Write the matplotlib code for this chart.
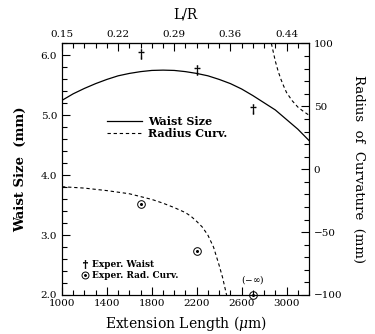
import matplotlib
matplotlib.use("Agg")
import matplotlib.pyplot as plt
from matplotlib.lines import Line2D
from matplotlib.ticker import MultipleLocator

plt.rcParams['font.family'] = ['DejaVu Serif']
plt.rcParams['mathtext.fontset'] = 'dejavuserif'

# theory curves
ext_waist = [1000, 1100, 1200, 1300, 1400, 1500, 1600, 1700, 1800, 1900, 2000,
             2100, 2200, 2300, 2400, 2500, 2600, 2700, 2800, 2900, 3000, 3100, 3200]
waist = [5.25, 5.36, 5.45, 5.53, 5.60, 5.66, 5.70, 5.73, 5.75, 5.755, 5.75,
         5.73, 5.70, 5.66, 5.60, 5.53, 5.44, 5.33, 5.21, 5.09, 4.93, 4.77, 4.58]

ext_rc_lo = [1000, 1200, 1400, 1600, 1800, 1900, 2000, 2100, 2150, 2200, 2250,
             2300, 2350, 2400, 2430, 2466]
rc_lo = [-13.9, -15.0, -17.0, -19.5, -24.0, -27.0, -30.5, -34.5, -37.5, -41.5,
         -46.0, -52.5, -62.0, -76.5, -86.0, -100]
ext_rc_hi = [2865, 2880, 2900, 2925, 2950, 2975, 3000, 3050, 3100, 3150, 3200]
rc_hi = [100, 94, 86, 78, 71.5, 66, 61, 54.5, 49.5, 46, 43]

# measured points
ext_meas = [1700, 2200, 2700]
waist_meas = [6.03, 5.76, 5.11]
rc_meas = [-28, -65, -100]

top_pos = [1000, 1500, 2000, 2500, 3000]
top_labels = ['0.15', '0.22', '0.29', '0.36', '0.44']

dash = (0, (3, 2.5))

fig = plt.figure(figsize=(3.75, 3.34), dpi=100)
ax = fig.add_axes([0.1653, 0.1168, 0.6587, 0.753])
ax2 = ax.twinx()

ax.plot(ext_waist, waist, color='black', lw=0.9)
ax.plot(ext_meas, waist_meas, ls='none', marker=r'$\dagger$', ms=7, mew=0.4,
        color='black')
ax2.plot(ext_rc_lo, rc_lo, color='black', lw=0.8, ls=dash)
ax2.plot(ext_rc_hi, rc_hi, color='black', lw=0.8, ls=dash)
ax2.plot(ext_meas, rc_meas, ls='none', marker='o', ms=5.5, mfc='none',
         mec='black', mew=0.7, clip_on=False)
ax2.plot(ext_meas, rc_meas, ls='none', marker='o', ms=1.2, color='black',
         clip_on=False)
ax2.text(ext_meas[2], -88, r'$(-\infty)$', ha='center', va='center', fontsize=6.5)

ax.set_xlim(1000, 3200)
ax.set_ylim(2.0, 6.2)
ax2.set_ylim(-100, 100)

ax.set_xticks([1000, 1400, 1800, 2200, 2600, 3000])
ax.xaxis.set_minor_locator(MultipleLocator(100))
ax.set_yticks([2.0, 3.0, 4.0, 5.0, 6.0])
ax.set_yticklabels(['2.0', '3.0', '4.0', '5.0', '6.0'])
ax.yaxis.set_minor_locator(MultipleLocator(0.2))
ax2.set_yticks([-100, -50, 0, 50, 100])
ax2.set_yticklabels(['\u2212100', '\u221250', '0', '50', '100'])
ax2.yaxis.set_minor_locator(MultipleLocator(10))

top = ax.secondary_xaxis('top')
top.set_xticks(top_pos)
top.set_xticklabels(top_labels)
top.xaxis.set_minor_locator(MultipleLocator(100))

for a in (ax, ax2, top):
    a.tick_params(which='both', direction='in', labelsize=7.5, width=0.8)
    a.tick_params(which='major', length=6)
    a.tick_params(which='minor', length=3.5)
ax.tick_params(axis='x', pad=3)

ax.set_xlabel(r'Extension Length ($\mu$m)', fontsize=10, labelpad=4)
ax.set_ylabel('Waist Size  (mm)', fontsize=9.5, fontweight='bold', labelpad=10)
ax2.set_ylabel('Radius  of  Curvature  (mm)', fontsize=9.5, rotation=-90,
               labelpad=16)
top.set_xlabel('L/R', fontsize=10, labelpad=8)

h1 = [Line2D([], [], color='black', lw=0.9),
      Line2D([], [], color='black', lw=0.8, ls=dash)]
leg1 = ax.legend(h1, ['Waist Size', 'Radius Curv.'], loc='center left',
                 bbox_to_anchor=(0.14, 0.665), frameon=False,
                 handlelength=3.2, labelspacing=0.1, handletextpad=0.5,
                 prop={'weight': 'bold', 'size': 8})
ax.add_artist(leg1)

h2 = [Line2D([], [], ls='none', marker=r'$\dagger$', ms=6, mew=0.4, color='black'),
      (Line2D([], [], ls='none', marker='o', ms=5, mfc='none', mec='black', mew=0.7),
       Line2D([], [], ls='none', marker='o', ms=1.1, color='black'))]
ax.legend(h2, ['Exper. Waist', 'Exper. Rad. Curv.'], loc='center left',
          bbox_to_anchor=(0.05, 0.1), frameon=False,
          handlelength=0.6, labelspacing=0.2, handletextpad=0.5,
          prop={'weight': 'bold', 'size': 6.5})

fig.savefig('out.png', dpi=100)
